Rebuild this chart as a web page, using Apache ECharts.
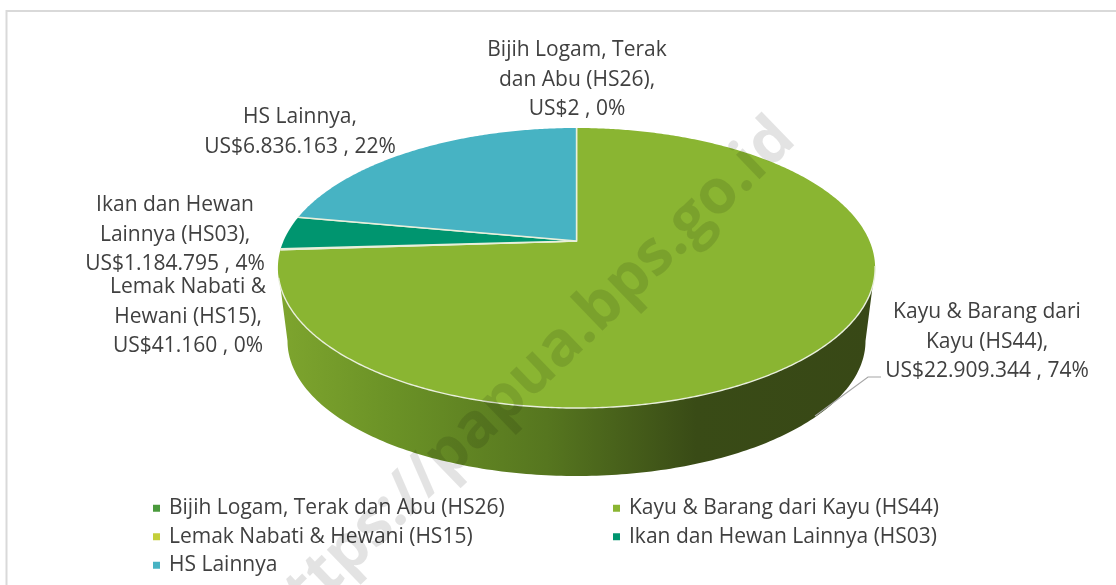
<!DOCTYPE html>
<html>
<head>
<meta charset="utf-8">
<script src="https://cdn.jsdelivr.net/npm/echarts@6/dist/echarts.min.js"></script>
<style>
  html, body { margin: 0; padding: 0; background: #fff; }
  #main { width: 1116px; height: 585px; }
</style>
</head>
<body>
<div id="main"></div>
<script>
// data, clockwise from 12 o'clock
const categories = ['Bijih Logam, Terak dan Abu (HS26)', 'Kayu & Barang dari Kayu (HS44)', 'Lemak Nabati & Hewani (HS15)', 'Ikan dan Hewan Lainnya (HS03)', 'HS Lainnya'];
const values = [2, 22909344, 41160, 1184795, 6836163];
const colors = ['#4a9a3c', '#8ab532', '#c4cf3a', '#00956f', '#47b3c3'];
const labelNames = ['Bijih Logam, Terak\ndan Abu (HS26),', 'Kayu & Barang dari\nKayu (HS44),', 'Lemak Nabati &\nHewani (HS15),', 'Ikan dan Hewan\nLainnya (HS03),', 'HS Lainnya,'];
const labelPos = [[577, 80], [987, 342], [188, 317], [175, 235], [300, 132]];
const legendLeft = [categories[0], categories[2], categories[4]];
const legendRight = [categories[1], categories[3]];

const FONT = '"Open Sans", sans-serif';
const EDGE = '#e9efdc';
const total = values.reduce((a, b) => a + b, 0);

// tilted disc: perspective projection of a circle, so the apex sits above the ellipse centre
const cx = 576.5, apexY = 241, a = 293, b = 134.8, k = 0.1929;
function rim(angle) {
  const u = Math.sin(angle), v = -Math.cos(angle), w = 1 - k * v;
  return [cx + a * u / w, apexY + b * v / w];
}

function rimPoints(start, end) {
  const pts = [];
  const n = Math.max(1, Math.ceil((end - start) / 0.01));
  for (let i = 0; i <= n; i++) pts.push(rim(start + (end - start) * i / n));
  return pts;
}

// the visible side of the cake, between the two tangents of the top ellipse
function wallPoints() {
  const pts = [[875, 268]];
  for (let i = 0; i <= 180; i++) {
    const t = i * Math.PI / 180;
    pts.push([cx + 289 * Math.cos(t), 341 + 135 * Math.sin(t)]);
  }
  pts.push([278, 268]);
  return pts;
}

const wallFill = new echarts.graphic.LinearGradient(0, 0, 1, 0, [
  { offset: 0, color: '#7ea52e' },
  { offset: 0.2, color: '#6a9126' },
  { offset: 0.45, color: '#56761f' },
  { offset: 0.7, color: '#394b16' },
  { offset: 1, color: '#384816' }
]);

function sliceSeries(name, i) {
  let before = 0;
  for (let j = 0; j < i; j++) before += values[j];
  return {
    type: 'custom',
    name: name,
    coordinateSystem: 'none',
    silent: true,
    z: i === 1 ? 2 : 3,
    itemStyle: { color: colors[i] },
    data: [[values[i]]],
    renderItem: function (params, api) {
      const start = before / total * Math.PI * 2;
      const end = (before + api.value(0)) / total * Math.PI * 2;
      const apex = [cx, apexY];
      const children = [];
      if (i === 1) children.push({ type: 'polygon', shape: { points: wallPoints() }, style: { fill: wallFill } });
      children.push({
        type: 'polygon',
        shape: { points: [apex].concat(rimPoints(start, end)) },
        style: { fill: colors[i] }
      });
      // pale edge only along the spokes and the front of the rim
      children.push({
        type: 'polyline',
        shape: { points: [rim(start), apex, rim(end)] },
        style: { stroke: EDGE, lineWidth: 1.4, fill: 'none' }
      });
      const frontFrom = Math.max(start, 1.75), frontTo = Math.min(end, 4.45);
      if (frontTo > frontFrom) {
        children.push({
          type: 'polyline',
          shape: { points: rimPoints(frontFrom, frontTo) },
          style: { stroke: EDGE, lineWidth: 1.4, fill: 'none' }
        });
      }
      return { type: 'group', children: children };
    }
  };
}

function money(v) {
  return 'US$' + String(v).replace(/\B(?=(\d{3})+$)/g, '.');
}

const labels = values.map(function (v, i) {
  return {
    type: 'text',
    x: labelPos[i][0],
    y: labelPos[i][1],
    z: 10,
    style: {
      text: labelNames[i] + '\n' + money(v) + ' , ' + Math.round(v / total * 100) + '%',
      fill: '#404040',
      font: '21px ' + FONT,
      lineHeight: 29.5,
      align: 'center',
      verticalAlign: 'middle'
    }
  };
});

const legendBase = {
  orient: 'vertical',
  top: 491,
  icon: 'rect',
  itemWidth: 7,
  itemHeight: 7,
  itemGap: 4,
  selectedMode: false,
  textStyle: { color: '#404040', fontFamily: FONT, fontSize: 21, lineHeight: 24.5, padding: [0, 0, 0, 4] }
};

const option = {
  animation: false,
  backgroundColor: '#fff',
  legend: [
    Object.assign({}, legendBase, { left: 148, data: legendLeft }),
    Object.assign({}, legendBase, { left: 608, data: legendRight })
  ],
  series: categories.map(sliceSeries),
  graphic: labels.concat([
    {
      type: 'rect', z: 0,
      shape: { x: 6.5, y: 11, width: 1200, height: 700 },
      style: { fill: 'none', stroke: '#d9d9d9', lineWidth: 2 }
    },
    {
      type: 'polyline', z: 9,
      shape: { points: [[815, 416], [868, 377], [881, 377]] },
      style: { stroke: '#a6a6a6', lineWidth: 1.2, fill: 'none' }
    },
    {
      type: 'text', z: 20,
      x: 526, y: 380, rotation: 44 * Math.PI / 180,
      style: {
        text: 'https://papua.bps.go.id',
        font: 'bold 62px ' + FONT,
        fill: 'rgba(0,0,0,0.11)',
        align: 'center',
        verticalAlign: 'middle'
      }
    }
  ])
};

const chartDom = document.getElementById('main');
const myChart = echarts.init(chartDom);
myChart.setOption(option);
</script>
</body>
</html>
